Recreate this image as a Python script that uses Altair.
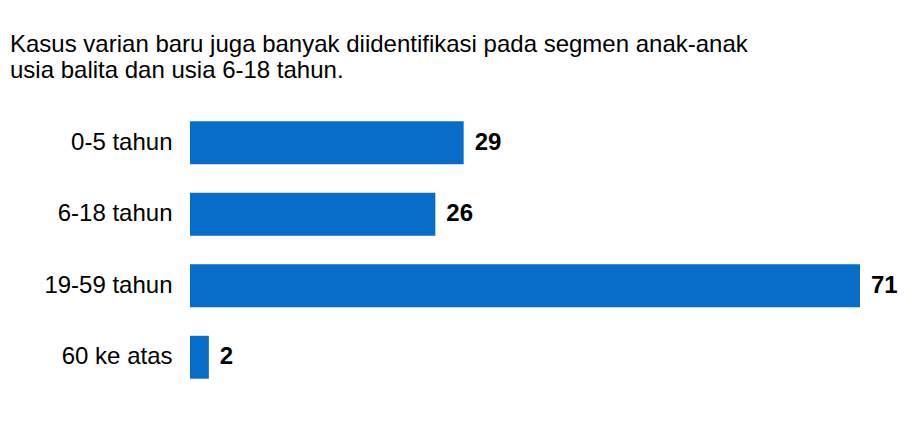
import altair as alt
import pandas as pd

categories = ["0-5 tahun", "6-18 tahun", "19-59 tahun", "60 ke atas"]
values = [29, 26, 71, 2]
title_lines = ["Kasus varian baru juga banyak diidentifikasi pada segmen anak-anak",
               "usia balita dan usia 6-18 tahun."]

df = pd.DataFrame({"kelompok": categories, "kasus": values})

FONT = "Liberation Sans"
BLUE = "#066DC8"

y_enc = alt.Y("kelompok:N", sort=categories, title=None,
              scale=alt.Scale(paddingInner=0.4, paddingOuter=0.2),
              axis=alt.Axis(domain=False, ticks=False, labelPadding=18,
                            labelFontSize=24, labelColor="#000000", labelFont=FONT,
                            labelLimit=300))
x_enc = alt.X("kasus:Q", title=None, scale=alt.Scale(domain=[0, 71], nice=False),
              axis=None)

bars = alt.Chart(df).mark_bar(color=BLUE).encode(x=x_enc, y=y_enc)
labels = alt.Chart(df).mark_text(align="left", baseline="middle", dx=11,
                                 fontSize=24, fontWeight="bold", font=FONT,
                                 color="#000000").encode(
    x=x_enc, y=y_enc, text="kasus:Q")

chart = alt.layer(bars, labels).properties(
    width=670, height=286,
    autosize=alt.AutoSizeParams(type="none"),
    padding={"left": 182, "top": 99, "right": 40, "bottom": 20},
    title=alt.TitleParams(text=title_lines, anchor="start", frame="group",
                          font=FONT, fontSize=24, fontWeight="normal",
                          color="#000000", lineHeight=26, dx=-180, offset=24),
).configure_view(stroke=None)

chart.save("out.html", embed_options={"renderer": "svg", "actions": False})
